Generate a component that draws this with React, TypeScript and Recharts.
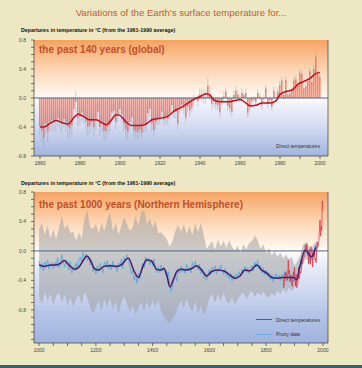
import React from "react";
import {
  ComposedChart,
  Bar,
  Line,
  Area,
  XAxis,
  YAxis,
  ReferenceLine,
  ErrorBar,
} from "recharts";

const FONT = '"Liberation Sans", Arial, sans-serif';

// ---- top panel: global annual anomalies 1860-2000 ----
const GLOBAL_START = 1860;
const globalAnomaly = [
  -0.39, -0.45, -0.55, -0.35, -0.47, -0.33, -0.3, -0.33, -0.32, -0.28,
  -0.31, -0.36, -0.29, -0.33, -0.4, -0.42, -0.38, -0.15, -0.05, -0.28,
  -0.26, -0.2, -0.25, -0.32, -0.4, -0.38, -0.33, -0.4, -0.31, -0.19,
  -0.4, -0.36, -0.45, -0.46, -0.4, -0.37, -0.2, -0.18, -0.33, -0.22,
  -0.15, -0.22, -0.36, -0.43, -0.47, -0.33, -0.27, -0.44, -0.46, -0.47,
  -0.43, -0.48, -0.38, -0.38, -0.21, -0.15, -0.35, -0.44, -0.33, -0.28,
  -0.27, -0.19, -0.3, -0.28, -0.29, -0.21, -0.1, -0.2, -0.19, -0.35,
  -0.13, -0.09, -0.14, -0.27, -0.12, -0.17, -0.13, -0.03, 0.0, -0.04,
  0.05, 0.03, 0.02, 0.01, 0.17, 0.06, -0.08, -0.05, -0.09, -0.1,
  -0.2, -0.05, 0.02, 0.09, -0.11, -0.14, -0.19, 0.04, 0.1, 0.05,
  -0.01, 0.07, 0.04, 0.07, -0.21, -0.12, -0.04, -0.02, -0.05, 0.07,
  0.02, -0.1, -0.01, 0.13, -0.08, -0.03, -0.12, 0.1, 0.01, 0.09,
  0.18, 0.24, 0.04, 0.25, 0.05, 0.06, 0.11, 0.24, 0.26, 0.18,
  0.35, 0.33, 0.13, 0.16, 0.23, 0.37, 0.22, 0.4, 0.57, 0.33,
  0.29,
];
const globalError = [
  0.14, 0.16, 0.13, 0.15, 0.14, 0.12, 0.15, 0.13, 0.14, 0.12,
  0.13, 0.14, 0.12, 0.13, 0.15, 0.14, 0.13, 0.16, 0.14, 0.12,
  0.12, 0.13, 0.11, 0.12, 0.13, 0.12, 0.11, 0.12, 0.13, 0.11,
  0.12, 0.11, 0.12, 0.13, 0.11, 0.1, 0.12, 0.11, 0.1, 0.11,
  0.1, 0.11, 0.1, 0.12, 0.11, 0.1, 0.09, 0.1, 0.11, 0.1,
  0.1, 0.09, 0.1, 0.09, 0.1, 0.11, 0.1, 0.09, 0.1, 0.09,
  0.09, 0.08, 0.09, 0.08, 0.09, 0.08, 0.09, 0.08, 0.09, 0.08,
  0.08, 0.09, 0.08, 0.07, 0.08, 0.08, 0.07, 0.08, 0.07, 0.08,
  0.08, 0.09, 0.1, 0.1, 0.11, 0.1, 0.09, 0.08, 0.08, 0.07,
  0.07, 0.06, 0.07, 0.06, 0.07, 0.06, 0.07, 0.06, 0.06, 0.07,
  0.06, 0.06, 0.05, 0.06, 0.06, 0.05, 0.06, 0.05, 0.06, 0.05,
  0.05, 0.06, 0.05, 0.05, 0.06, 0.05, 0.05, 0.06, 0.05, 0.05,
  0.05, 0.05, 0.06, 0.05, 0.05, 0.05, 0.05, 0.05, 0.05, 0.05,
  0.05, 0.05, 0.05, 0.05, 0.05, 0.05, 0.05, 0.05, 0.05, 0.05,
  0.05,
];
const globalSmoothYears = [
  1860, 1862, 1865, 1868, 1871, 1874, 1877, 1879, 1882, 1885, 1888, 1891,
  1893, 1895, 1898, 1900, 1903, 1906, 1910, 1913, 1916, 1920, 1924, 1927,
  1930, 1934, 1937, 1940, 1943, 1945, 1947, 1950, 1955, 1958, 1960, 1963,
  1965, 1968, 1971, 1975, 1978, 1980, 1983, 1986, 1989, 1992, 1995, 1998,
  2000,
];
const globalSmoothValues = [
  -0.4, -0.4, -0.35, -0.31, -0.34, -0.36, -0.27, -0.22, -0.26, -0.3, -0.3,
  -0.34, -0.37, -0.33, -0.23, -0.24, -0.33, -0.38, -0.38, -0.36, -0.3, -0.28,
  -0.25, -0.18, -0.14, -0.07, -0.02, 0.02, 0.06, 0.04, -0.03, -0.05, -0.05,
  -0.03, -0.02, -0.07, -0.11, -0.1, -0.07, -0.07, -0.04, 0.05, 0.09, 0.11,
  0.19, 0.23, 0.27, 0.34, 0.35,
];

// ---- bottom panel: northern hemisphere 1000-2000 ----
const PROXY_START = 1000;
const PROXY_STEP = 5;
const proxyValues = [
  -0.14, -0.24, -0.17, -0.27, -0.15, -0.22, -0.12, -0.25, -0.2, -0.16,
  -0.24, -0.15, -0.21, -0.09, -0.23, -0.18, -0.05, -0.14, -0.22, -0.12,
  -0.19, -0.26, -0.14, -0.3, -0.21, -0.27, -0.16, -0.25, -0.12, -0.08,
  -0.15, -0.02, -0.1, -0.04, -0.13, -0.08, -0.19, -0.14, -0.28, -0.22,
  -0.31, -0.2, -0.28, -0.17, -0.24, -0.3, -0.15, -0.22, -0.13, -0.25,
  -0.18, -0.26, -0.14, -0.23, -0.19, -0.28, -0.16, -0.21, -0.11, -0.24,
  -0.08, -0.15, -0.05, -0.13, -0.22, -0.31, -0.27, -0.4, -0.33, -0.44,
  -0.3, -0.38, -0.25, -0.17, -0.23, -0.08, -0.15, -0.1, -0.19, -0.12,
  -0.2, -0.11, -0.24, -0.3, -0.21, -0.29, -0.19, -0.27, -0.22, -0.31,
  -0.36, -0.28, -0.45, -0.55, -0.48, -0.38, -0.32, -0.41, -0.24, -0.3,
  -0.21, -0.29, -0.23, -0.31, -0.18, -0.27, -0.22, -0.3, -0.16, -0.25,
  -0.14, -0.22, -0.26, -0.18, -0.31, -0.24, -0.37, -0.29, -0.4, -0.32,
  -0.25, -0.33, -0.22, -0.29, -0.2, -0.31, -0.24, -0.28, -0.19, -0.27,
  -0.32, -0.24, -0.35, -0.29, -0.38, -0.3, -0.41, -0.33, -0.39, -0.31,
  -0.37, -0.28, -0.34, -0.25, -0.3, -0.21, -0.29, -0.23, -0.31, -0.24,
  -0.2, -0.28, -0.15, -0.22, -0.12, -0.24, -0.19, -0.3, -0.23, -0.33,
  -0.26, -0.35, -0.29, -0.39, -0.32, -0.42, -0.35, -0.31, -0.38, -0.33,
  -0.4, -0.32, -0.37, -0.29, -0.41, -0.34, -0.3, -0.39, -0.33, -0.42,
  -0.36, -0.45, -0.38, -0.27, -0.2, -0.12, -0.08, -0.02, 0.04, -0.05,
  -0.01, -0.09, -0.12, -0.03, 0.02, 0.08, 0.03,
];
const BAND_STEP = 10;
const bandHigh = [
  0.3, 0.38, 0.22, 0.35, 0.18, 0.29, 0.16, 0.31, 0.48, 0.3,
  0.36, 0.24, 0.26, 0.14, 0.25, 0.17, 0.44, 0.55, 0.32, 0.3,
  0.37, 0.24, 0.38, 0.27, 0.42, 0.53, 0.27, 0.38, 0.22, 0.35,
  0.46, 0.36, 0.27, 0.32, 0.47, 0.35, 0.52, 0.56, 0.37, 0.44,
  0.32, 0.41, 0.24, 0.25, 0.21, 0.16, 0.06, 0.13, 0.27, 0.35,
  0.26, 0.36, 0.23, 0.33, 0.22, 0.37, 0.26, 0.38, 0.22, 0.03,
  0.08, 0.13, 0.02, 0.16, 0.06, 0.14, 0.04, 0.15, 0.05, 0.01,
  0.07, -0.02, 0.09, 0.02, 0.11, 0.13, 0.21, 0.15, 0.03, 0.09,
  -0.03, 0.04, -0.06, 0.0, -0.08, -0.02, -0.1, -0.05, -0.12, -0.08,
  -0.2, -0.14, -0.06, 0.08, 0.12, 0.06, 0.03, 0.1, 0.13,
];
const bandLow = [
  -0.62, -0.72, -0.56, -0.68, -0.58, -0.73, -0.61, -0.57, -0.7, -0.6,
  -0.74, -0.63, -0.75, -0.66, -0.6, -0.72, -0.56, -0.64, -0.76, -0.86,
  -0.76, -0.68, -0.82, -0.66, -0.76, -0.64, -0.8, -0.68, -0.86, -0.7,
  -0.62, -0.72, -0.83, -0.74, -0.87, -0.76, -0.7, -0.82, -0.69, -0.78,
  -0.68, -0.76, -0.66, -0.82, -0.89, -0.95, -0.99, -0.92, -0.86, -0.74,
  -0.68, -0.77, -0.66, -0.76, -0.82, -0.68, -0.86, -0.74, -0.87, -0.79,
  -0.64, -0.59, -0.7, -0.6, -0.68, -0.57, -0.69, -0.71, -0.62, -0.73,
  -0.65, -0.6, -0.56, -0.66, -0.59, -0.54, -0.63, -0.56, -0.61, -0.55,
  -0.61, -0.64, -0.57, -0.62, -0.54, -0.59, -0.51, -0.57, -0.5, -0.54,
  -0.5, -0.42, -0.3, -0.16, -0.1, -0.16, -0.14, -0.08, -0.05,
];
const nhSmoothYears = [
  1000, 1020, 1040, 1060, 1075, 1088, 1105, 1125, 1140, 1157, 1168, 1180,
  1195, 1210, 1228, 1250, 1272, 1290, 1305, 1315, 1333, 1350, 1366, 1379,
  1397, 1414, 1428, 1440, 1450, 1461, 1473, 1487, 1502, 1520, 1537, 1555,
  1573, 1590, 1608, 1630, 1655, 1673, 1690, 1708, 1725, 1743, 1767, 1784,
  1802, 1820, 1843, 1861, 1878, 1896, 1908, 1919, 1937, 1949, 1958, 1966,
  1975,
];
const nhSmoothValues = [
  -0.19, -0.21, -0.19, -0.19, -0.17, -0.13, -0.19, -0.25, -0.22, -0.12, -0.07,
  -0.12, -0.24, -0.26, -0.21, -0.2, -0.21, -0.19, -0.12, -0.1, -0.26, -0.36,
  -0.21, -0.12, -0.14, -0.25, -0.26, -0.24, -0.33, -0.49, -0.39, -0.27, -0.25,
  -0.26, -0.24, -0.2, -0.26, -0.34, -0.28, -0.26, -0.28, -0.33, -0.37, -0.34,
  -0.26, -0.27, -0.19, -0.26, -0.3, -0.36, -0.37, -0.36, -0.36, -0.36, -0.39,
  -0.21, 0.01, -0.03, -0.08, -0.05, 0.05,
];
const DIRECT_START = 1860;
const DIRECT_STEP = 2;
const directValues = [
  -0.38, -0.5, -0.42, -0.3, -0.33, -0.28, -0.35, -0.4, -0.38, -0.12,
  -0.3, -0.26, -0.42, -0.36, -0.33, -0.44, -0.48, -0.4, -0.28, -0.35,
  -0.22, -0.4, -0.48, -0.32, -0.5, -0.45, -0.44, -0.22, -0.38, -0.36,
  -0.28, -0.3, -0.27, -0.12, -0.18, -0.12, -0.1, -0.08, -0.06, 0.08,
  0.02, 0.0, 0.1, -0.06, -0.05, -0.18, 0.02, -0.1, -0.18, 0.06,
  0.0, 0.02, -0.22, -0.04, -0.08, 0.0, -0.12, -0.1, -0.16, -0.02,
  0.12, 0.05, 0.1, 0.15, 0.32, 0.42, 0.2, 0.34, 0.28, 0.68,
  0.55,
];

// ---- axes ----
const topYTicks = [-0.8, -0.7, -0.6, -0.5, -0.4, -0.3, -0.2, -0.1, 0, 0.1, 0.2, 0.3, 0.4, 0.5, 0.6, 0.7, 0.8];
const bottomYTicks = [-1.2, -1.1, -1.0, -0.9, ...topYTicks];
const topXTicks = [1860, 1870, 1880, 1890, 1900, 1910, 1920, 1930, 1940, 1950, 1960, 1970, 1980, 1990, 2000];
const bottomXTicks = [1000, 1050, 1100, 1150, 1200, 1250, 1300, 1350, 1400, 1450, 1500, 1550, 1600, 1650, 1700, 1750, 1800, 1850, 1900, 1950, 2000];

const globalData = globalAnomaly.map((v, i) => ({
  year: GLOBAL_START + i,
  value: v,
  err: globalError[i],
}));
const globalSmooth = globalSmoothYears.map((y, i) => ({ year: y, value: globalSmoothValues[i] }));
const proxyData = proxyValues.map((v, i) => ({ year: PROXY_START + i * PROXY_STEP, value: v }));
const bandData = bandHigh.map((h, i) => ({
  year: PROXY_START + i * BAND_STEP,
  range: [bandLow[i], h],
}));
const nhSmooth = nhSmoothYears.map((y, i) => ({ year: y, value: nhSmoothValues[i] }));
const directData = directValues.map((v, i) => ({ year: DIRECT_START + i * DIRECT_STEP, value: v }));

const tickStyle = { fontSize: 5, fill: "#444", fontFamily: FONT };
// labels only on the 0.4 steps, and nothing below -0.8
const yLabel = (v: number) =>
  Math.round(v * 10) % 4 === 0 && v > -0.85 ? (Math.abs(v) < 1e-9 ? "0.0" : v.toFixed(1)) : "";
const axisStroke = { stroke: "#3a3a3a", strokeWidth: 0.7 };

const abs = (s: React.CSSProperties): React.CSSProperties => ({ position: "absolute", ...s });

const TOP_GRAD =
  "linear-gradient(to bottom, #F6A262 0%, #F9C090 14%, #FCDDC2 30%, #FEF3E8 45%, #FFFCF8 50%, #F0F2FA 56%, #D4DCF1 74%, #A2B4DF 100%)";
const BOTTOM_GRAD =
  "linear-gradient(to bottom, #F6A262 0%, #F9C090 11%, #FCDDC2 23%, #FEF3E8 35%, #FFFCF8 39%, #F0F2FA 45%, #D4DCF1 62%, #B6C5E8 80%, #A0B3DE 100%)";

export default function App() {
  return (
    <div style={abs({ left: 0, top: 0, width: 362, height: 368, background: "#EEE7C4", overflow: "hidden", fontFamily: FONT })}>
      <div style={abs({ left: 0, top: 7, width: 362, textAlign: "center", fontSize: 9.6, lineHeight: "12px", color: "#C25E2C" })}>
        Variations of the Earth's surface temperature for...
      </div>

      {/* top panel */}
      <div style={abs({ left: 21, top: 27, fontSize: 5.3, lineHeight: "7px", fontWeight: "bold", color: "#111", whiteSpace: "nowrap" })}>
        Departures in temperature in °C (from the 1961-1990 average)
      </div>
      <div style={abs({ left: 34, top: 40, width: 294, height: 116, background: TOP_GRAD })} />
      <div style={abs({ left: 0, top: 0 })}>
        <ComposedChart width={362} height={175} data={globalData} margin={{ top: 40, right: 0, bottom: 0, left: 0 }}>
          <XAxis
            dataKey="year"
            type="number"
            domain={[1857, 2004]}
            ticks={topXTicks}
            interval={0}
            allowDataOverflow
            height={19}
            tickSize={3}
            tickMargin={2}
            tick={tickStyle}
            tickFormatter={(v: number) => (v % 20 === 0 ? String(v) : "")}
            axisLine={axisStroke}
            tickLine={axisStroke}
          />
          <YAxis
            type="number"
            domain={[-0.8, 0.8]}
            ticks={topYTicks}
            interval={0}
            allowDataOverflow
            width={34}
            tickSize={3}
            tickMargin={5}
            tick={tickStyle}
            tickFormatter={yLabel}
            axisLine={axisStroke}
            tickLine={axisStroke}
          />
          <YAxis
            yAxisId="r"
            orientation="right"
            type="number"
            domain={[-0.8, 0.8]}
            ticks={topYTicks}
            interval={0}
            width={34}
            tickSize={3}
            tickMargin={6}
            tick={tickStyle}
            tickFormatter={yLabel}
            axisLine={axisStroke}
            tickLine={axisStroke}
          />
          <Bar dataKey="value" fill="#EF6F58" fillOpacity={0.8} barSize={1.6} isAnimationActive={false}>
            <ErrorBar dataKey="err" width={0} stroke="#8E95A8" strokeOpacity={0.75} strokeWidth={0.55} direction="y" />
          </Bar>
          <ReferenceLine y={0} stroke="#4B6688" strokeWidth={1} />
          <Line
            data={globalSmooth}
            dataKey="value"
            type="monotone"
            stroke="#C0101E"
            strokeWidth={1.5}
            dot={false}
            isAnimationActive={false}
          />
        </ComposedChart>
      </div>
      <div style={abs({ left: 39, top: 44, fontSize: 10, lineHeight: "12px", fontWeight: "bold", color: "#C2502A", whiteSpace: "nowrap" })}>
        the past 140 years (global)
      </div>
      <div style={abs({ left: 276, top: 143, fontSize: 5, lineHeight: "6px", color: "#333", whiteSpace: "nowrap" })}>
        Direct temperatures
      </div>

      {/* bottom panel */}
      <div style={abs({ left: 21, top: 180, fontSize: 5.3, lineHeight: "7px", fontWeight: "bold", color: "#111", whiteSpace: "nowrap" })}>
        Departures in temperature in °C (from the 1961-1990 average)
      </div>
      <div style={abs({ left: 34, top: 192, width: 294, height: 151, background: BOTTOM_GRAD })} />
      <div style={abs({ left: 0, top: 170 })}>
        <ComposedChart width={362} height={190} data={proxyData} margin={{ top: 22, right: 0, bottom: 0, left: 0 }}>
          <XAxis
            dataKey="year"
            type="number"
            domain={[982, 2018]}
            ticks={bottomXTicks}
            interval={0}
            allowDataOverflow
            height={17}
            tickSize={3}
            tickMargin={2}
            tick={tickStyle}
            tickFormatter={(v: number) => (v % 200 === 0 ? String(v) : "")}
            axisLine={axisStroke}
            tickLine={axisStroke}
          />
          <YAxis
            type="number"
            domain={[-1.25, 0.8]}
            ticks={bottomYTicks}
            interval={0}
            allowDataOverflow
            width={34}
            tickSize={3}
            tickMargin={5}
            tick={tickStyle}
            tickFormatter={yLabel}
            axisLine={axisStroke}
            tickLine={axisStroke}
          />
          <YAxis
            yAxisId="r"
            orientation="right"
            type="number"
            domain={[-1.25, 0.8]}
            ticks={bottomYTicks}
            interval={0}
            width={34}
            tickSize={3}
            tickMargin={6}
            tick={tickStyle}
            tickFormatter={yLabel}
            axisLine={axisStroke}
            tickLine={axisStroke}
          />
          <Area
            data={bandData}
            dataKey="range"
            type="linear"
            fill="#A3A2A2"
            fillOpacity={0.55}
            stroke="none"
            isAnimationActive={false}
          />
          <ReferenceLine y={0} stroke="#4B6688" strokeWidth={1} />
          <Line dataKey="value" type="linear" stroke="#4FA6DC" strokeWidth={0.8} dot={false} isAnimationActive={false} />
          <Line
            data={directData}
            dataKey="value"
            type="linear"
            stroke="#D8344A"
            strokeWidth={0.9}
            strokeOpacity={0.85}
            dot={false}
            isAnimationActive={false}
          />
          <Line
            data={nhSmooth}
            dataKey="value"
            type="monotone"
            stroke="#4A1A68"
            strokeWidth={1.5}
            dot={false}
            isAnimationActive={false}
          />
        </ComposedChart>
      </div>
      <div style={abs({ left: 39, top: 199, fontSize: 10, lineHeight: "12px", fontWeight: "bold", color: "#C2502A", whiteSpace: "nowrap" })}>
        the past 1000 years (Northern Hemisphere)
      </div>
      <div style={abs({ left: 256, top: 319, width: 16, height: 1.3, background: "#C0304A" })} />
      <div style={abs({ left: 276, top: 317, fontSize: 5, lineHeight: "6px", color: "#333", whiteSpace: "nowrap" })}>
        Direct temperatures
      </div>
      <div style={abs({ left: 256, top: 333.5, width: 16, height: 1, background: "#6EB0E2" })} />
      <div style={abs({ left: 276, top: 331, fontSize: 5, lineHeight: "6px", color: "#333", whiteSpace: "nowrap" })}>
        Proxy data
      </div>

      <div style={abs({ left: 0, top: 365, width: 362, height: 3, background: "#35607E" })} />
    </div>
  );
}
